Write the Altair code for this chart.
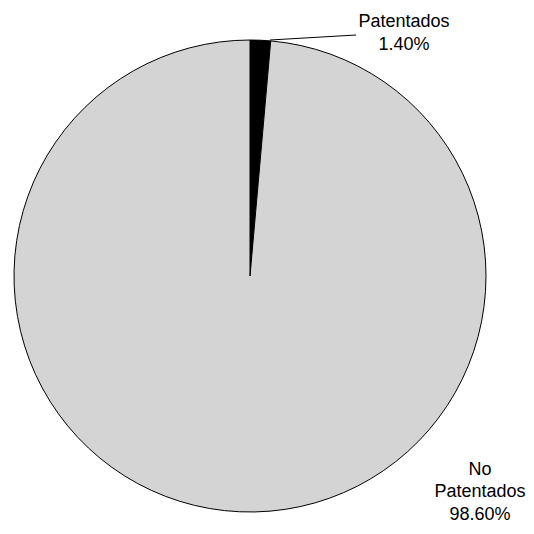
import altair as alt
import pandas as pd

categories = ["Patentados", "No Patentados"]
values = [1.4, 98.6]
labels = ["Patentados\n1.40%", "No\nPatentados\n98.60%"]
colors = ["#000000", "#d4d4d4"]

df = pd.DataFrame({"cat": categories, "val": values, "ord": [0, 1]})

pie = alt.Chart(df).mark_arc(stroke="black", strokeWidth=1, radius=236).encode(
    theta=alt.Theta("val:Q", stack=True),
    order=alt.Order("ord:Q"),
    color=alt.Color("cat:N", scale=alt.Scale(domain=categories, range=colors), legend=None),
    x=alt.value(242),
    y=alt.value(268),
)

lab1 = pd.DataFrame({"t": [labels[0]]})
lab2 = pd.DataFrame({"t": [labels[1]]})

t1 = alt.Chart(lab1).mark_text(
    font="Liberation Sans", fontSize=18, align="center", baseline="alphabetic",
    lineBreak="\n", lineHeight=22.5, color="black"
).encode(text="t:N", x=alt.value(396), y=alt.value(19))

t2 = alt.Chart(lab2).mark_text(
    font="Liberation Sans", fontSize=18, align="center", baseline="alphabetic",
    lineBreak="\n", lineHeight=22.5, color="black"
).encode(text="t:N", x=alt.value(472), y=alt.value(466.5))

leader = alt.Chart(lab1).mark_rule(color="black", strokeWidth=1).encode(
    x=alt.value(262), y=alt.value(32), x2=alt.value(348), y2=alt.value(27)
)

chart = alt.layer(pie, leader, t1, t2).properties(
    width=518, height=518, padding=0, autosize=alt.AutoSizeParams(type="none")
).configure_view(stroke=None)

chart.save("out.html", embed_options={"renderer": "svg", "actions": False})
